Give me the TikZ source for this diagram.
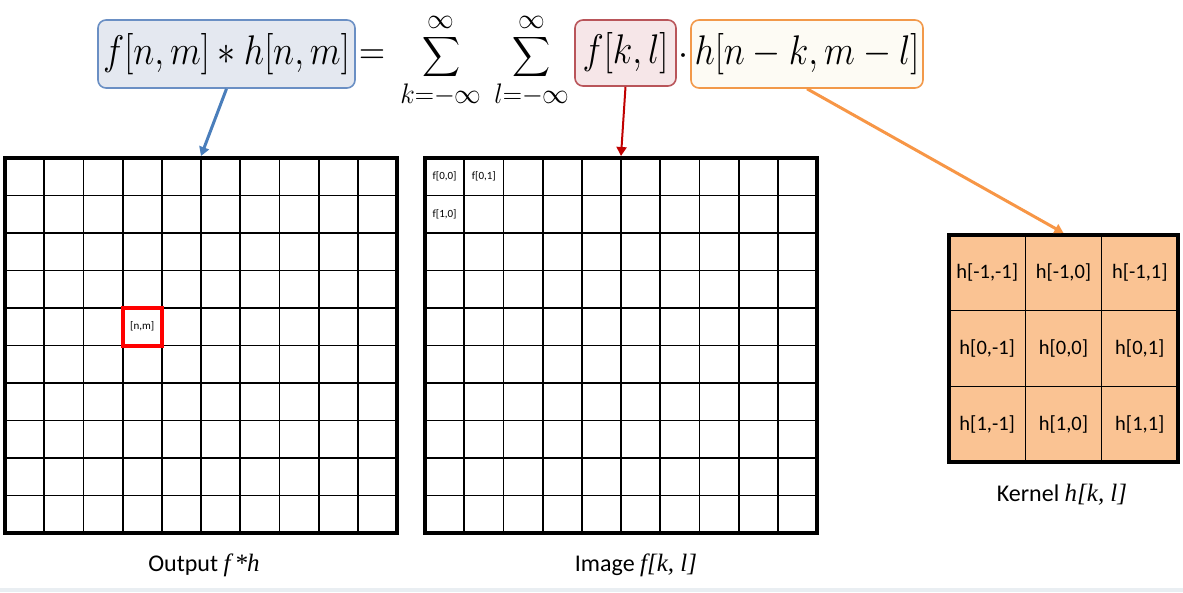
\RequirePackage{fix-cm}
\documentclass[tikz,border=0pt]{standalone}
\usepackage{amsmath}
\usepackage[no-math]{fontspec}
\setmainfont{Carlito}
\newfontfamily\timesit{Liberation Serif Italic}
\usetikzlibrary{arrows.meta}
\definecolor{bluebd}{HTML}{6A8FC4}
\definecolor{bluefl}{HTML}{E4E8F0}
\definecolor{redbd}{HTML}{B9555A}
\definecolor{redfl}{HTML}{F6E6E8}
\definecolor{orangebd}{HTML}{F2994A}
\definecolor{orangefl}{HTML}{FDFBF4}
\definecolor{bluearr}{HTML}{4A7EBB}
\definecolor{redarr}{HTML}{C00000}
\definecolor{orangearr}{HTML}{F79646}
\definecolor{kernelfl}{HTML}{FAC393}
\definecolor{bandfl}{HTML}{E9EEF2}
\tikzset{
  eqbox/.style={rounded corners=8pt, line width=1.6pt, inner sep=0pt, minimum height=68pt,
    font=\fontsize{36}{40}\selectfont},
  eqpart/.style={inner sep=0pt, font=\fontsize{36}{40}\selectfont},
  gridbox/.style={draw, line width=4pt, inner sep=0pt, minimum width=392pt, minimum height=375pt},
  kernbox/.style={draw, line width=4pt, inner sep=0pt, fill=kernelfl, minimum width=229pt, minimum height=227pt},
  gridline/.style={line width=1.8pt},
  kernline/.style={line width=1.2pt},
  arr/.style={-{Triangle[width=10pt,length=9pt]}},
  cellsmall/.style={inner sep=0pt, font=\fontsize{11}{13}\selectfont},
  kerntext/.style={inner sep=0pt, font=\fontsize{20.5}{24}\selectfont},
  caption/.style={inner sep=0pt, font=\fontsize{24}{28}\selectfont},
}
\newcommand{\capit}[1]{{\timesit\fontsize{25}{28}\selectfont #1}}
\begin{document}
\begin{tikzpicture}[x=1pt,y=-1pt]
\useasboundingbox (0,0) rectangle (1183,592);
\fill[bandfl] (0,588) rectangle (1183,592);

% formula
\node[eqbox, draw=bluebd, fill=bluefl, minimum width=257pt] (lhs) at (226.5,54)
  {\scalebox{1}[1.15]{$f[n,m]*h[n,m]$}};
\node[eqpart, anchor=base] (eq) at (372,64.5) {\scalebox{1}[1.15]{$=$}};
\node[eqpart] (sums) at (485,61)
  {\scalebox{1.06}[1.12]{$\displaystyle\sum_{k=-\infty}^{\infty}\,\sum_{l=-\infty}^{\infty}$}};
\node[eqbox, draw=redbd, fill=redfl, minimum width=101pt, minimum height=66pt] (fkl) at (625.5,53)
  {\scalebox{1}[1.15]{$f[k,l]$}};
\node[eqpart, anchor=base] (dot) at (683,64.5) {$\cdot$};
\node[eqbox, draw=orangebd, fill=orangefl, minimum width=232pt] (hnk) at (807,54)
  {\scalebox{1}[1.15]{$h[n-k,m-l]$}};

% output grid
\node[gridbox] (out) at (201,345.5) {};
\foreach \i in {1,...,9} {
  \draw[gridline] (5+\i*39.2,158) -- (5+\i*39.2,533);
  \draw[gridline] (5,158+\i*37.5) -- (397,158+\i*37.5);
}
\draw[red, line width=4pt] (122.6,308) rectangle (161.8,345.5);
\node[cellsmall] (nm) at (142.2,326.75) {[n,m]};

% image grid
\node[gridbox] (img) at (621,345.5) {};
\foreach \i in {1,...,9} {
  \draw[gridline] (425+\i*39.2,158) -- (425+\i*39.2,533);
  \draw[gridline] (425,158+\i*37.5) -- (817,158+\i*37.5);
}
\node[cellsmall] (f00) at (444.6,176.75) {f[0,0]};
\node[cellsmall] (f01) at (483.8,176.75) {f[0,1]};
\node[cellsmall] (f10) at (444.6,214.25) {f[1,0]};

% kernel
\node[kernbox] (ker) at (1063.5,348.5) {};
\draw[kernline] (1025.8,235) -- (1025.8,462);
\draw[kernline] (1101.2,235) -- (1101.2,462);
\draw[kernline] (949,310.7) -- (1178,310.7);
\draw[kernline] (949,386.3) -- (1178,386.3);
\node[kerntext] (k00) at (987.2,272.8) {h[-1,-1]};
\node[kerntext] (k01) at (1063.5,272.8) {h[-1,0]};
\node[kerntext] (k02) at (1139.8,272.8) {h[-1,1]};
\node[kerntext] (k10) at (987.2,348.5) {h[0,-1]};
\node[kerntext] (k11) at (1063.5,348.5) {h[0,0]};
\node[kerntext] (k12) at (1139.8,348.5) {h[0,1]};
\node[kerntext] (k20) at (987.2,424.2) {h[1,-1]};
\node[kerntext] (k21) at (1063.5,424.2) {h[1,0]};
\node[kerntext] (k22) at (1139.8,424.2) {h[1,1]};

% captions
\node[caption] (capout) at (204,565) {Output \capit{f\,*h}};
\node[caption] (capimg) at (636,565) {Image \capit{f[k, l]}};
\node[caption] (capker) at (1062,495) {Kernel \capit{h[k, l]}};

% arrows
\draw[arr, bluearr, line width=3pt] (lhs.south) -- (out.north);
\draw[arr, redarr, line width=2pt] (fkl.south) -- (img.north);
\draw[arr, orangearr, line width=3pt] (hnk.south) -- (ker.north);
\end{tikzpicture}
\end{document}
